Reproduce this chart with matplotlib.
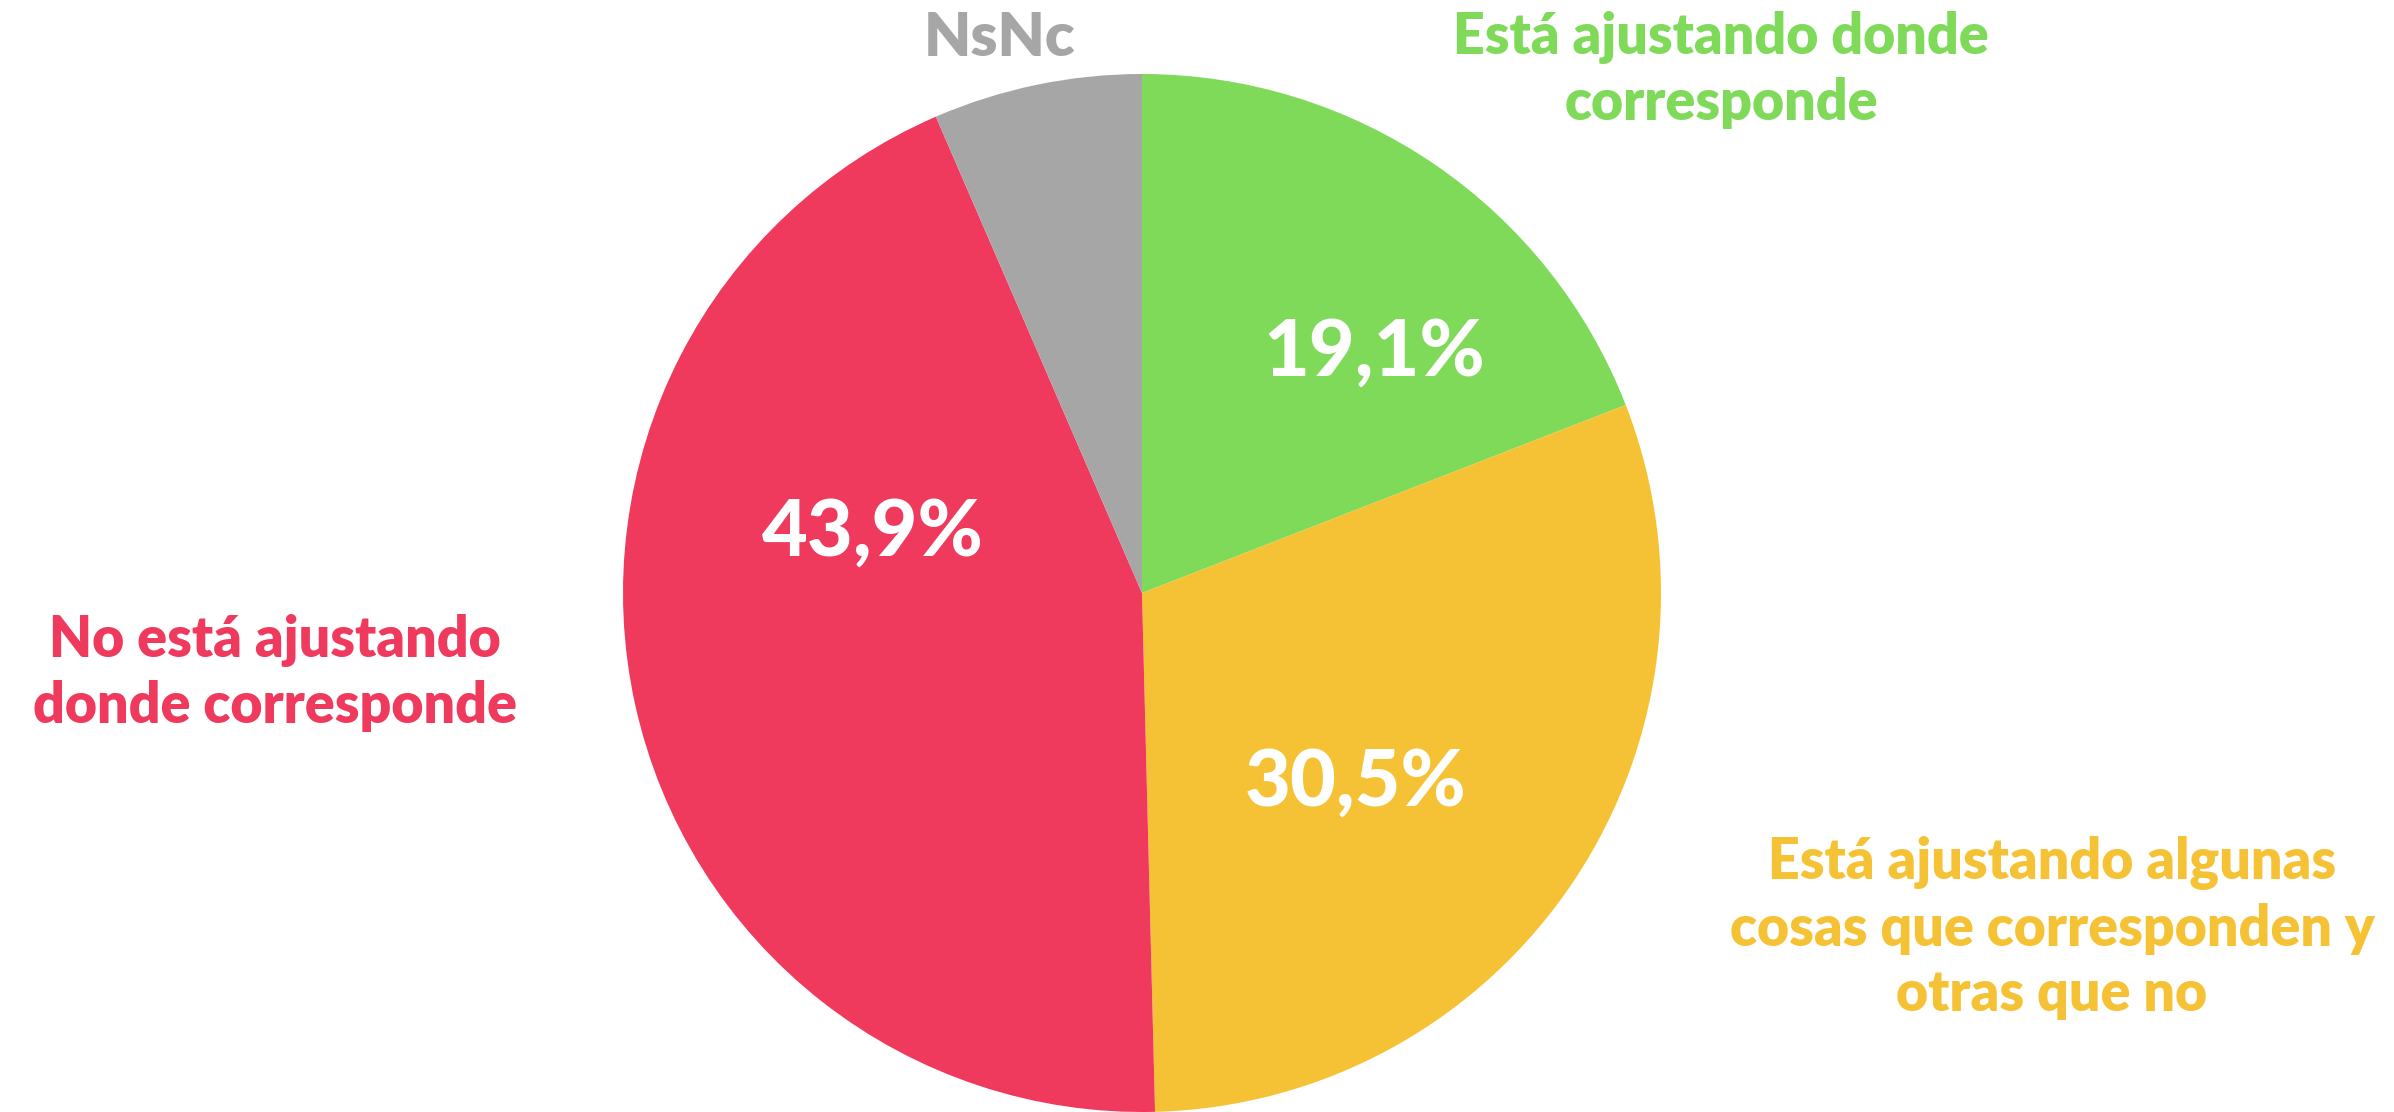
import matplotlib.pyplot as plt

# datos
categories = ['Está ajustando donde\ncorresponde',
              'Está ajustando algunas\ncosas que corresponden y\notras que no',
              'No está ajustando\ndonde corresponde',
              'NsNc']
values = [19.1, 30.5, 43.9, 6.5]
pct_labels = ['19,1%', '30,5%', '43,9%', '']
colors = ['#7FDA5A', '#F6C235', '#EF3A5E', '#A6A6A6']

W, H = 2394, 1112
fig = plt.figure(figsize=(W / 100, H / 100), dpi=100)
ax = fig.add_axes([0, 0, 1, 1])

cx, cy, r = 1142, 519, 519
ax.pie(values, colors=colors, startangle=90, counterclock=False,
       radius=r, center=(cx, cy), wedgeprops={'linewidth': 0})
ax.set_xlim(0, W)
ax.set_ylim(0, H)
ax.set_aspect('equal')
ax.axis('off')

font = 'Lato'

# porcentajes dentro del pastel (posiciones en pixeles desde arriba)
pct_pos = [(1374, 353), (1356, 783), (873, 533)]
for lab, (x, y) in zip(pct_labels, pct_pos):
    ax.text(x, H - y, lab, color='white', fontsize=57, fontweight='black',
            family=font, ha='center', va='center')

# etiquetas externas
lab_pos = [(1721, 70), (2052, 928), (275, 673), (1000, 38)]
lab_size = [40, 40, 40, 44]
for lab, col, (x, y), fs in zip(categories, colors, lab_pos, lab_size):
    ax.text(x, H - y, lab, color=col, fontsize=fs, fontweight='heavy',
            family=font, ha='center', va='center', linespacing=1.3)

fig.savefig('out.png', dpi=100)
